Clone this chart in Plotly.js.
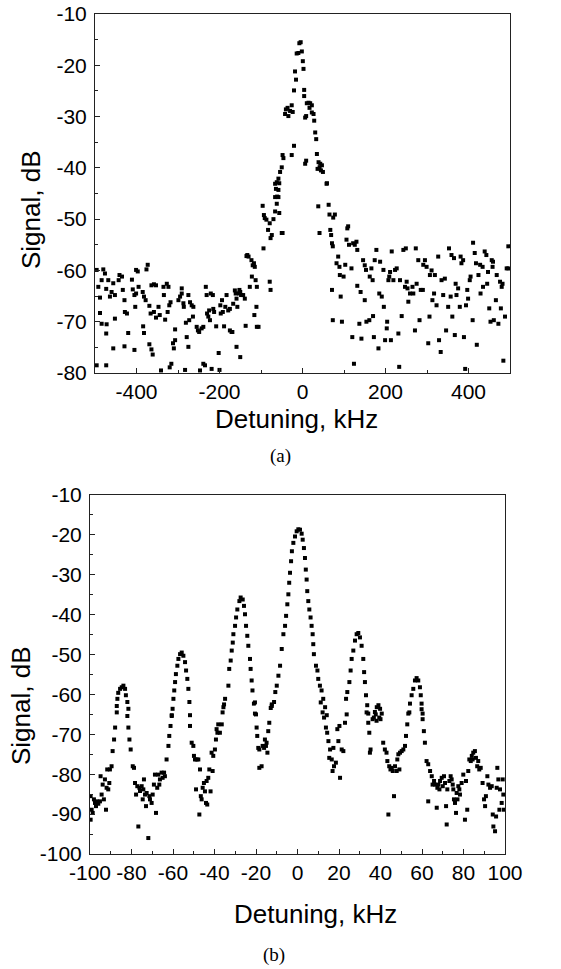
<!DOCTYPE html>
<html><head><meta charset="utf-8">
<script src="https://cdn.plot.ly/plotly-3.0.1.min.js"></script>
<style>html,body{margin:0;padding:0;background:#fff}#c{width:561px;height:969px}</style>
</head><body><div id="c"></div>
<script>
// Panel (a): wide scan, detuning in kHz, signal in dB
const aX = [-496,-492,-488,-484,-480,-476,-473,-488,-484,-472,-473,-496,-473,-468,-464,-456,-452,-460,-452,-456,-443,-441,-435,-433,-429,-428,-423,-420,-429,-411,-409,-405,-403,-401,-405,-401,-397,-395,-385,-382,-378,-382,-384,-376,-373,-369,-366,-369,-364,-361,-364,-358,-353,-358,-353,-347,-344,-341,-335,-334,-331,-327,-323,-325,-321,-318,-320,-316,-312,-310,-307,-307,-299,-295,-291,-291,-287,-286,-281,-279,-275,-273,-283,-275,-271,-267,-264,-263,-255,-252,-249,-247,-243,-239,-239,-235,-233,-231,-230,-227,-225,-223,-221,-216,-215,-219,-213,-208,-202,-200,-198,-197,-194,-192,-189,-186,-183,-179,-175,-175,-171,-169,-167,-163,-161,-159,-159,-157,-153,-152,-150,-150,-148,-143,-139,-137,-135,-133,-130,-127,-123,-122,-120,-117,-116,-115,-111,-113,-110,-106,-110,
-96,-94,-93,-91,-87,-83,-79,-77,-74,-79,-77,-70,-66,-62,-61,-58,-56,-56,-50,-48,
-66,-66,-64,-62,-58,-58,-54,-50,-48,-46,-42,-40,-36,-34,-30,-26,-23.6,-26,-20.5,-20.5,-18,-15.6,-14,-10,-7.6,-4.4,-1.6,0.8,2.4,4,4,6.4,8.8,6.4,8.8,10.4,14.5,16.9,18.5,22.5,22.5,26.6,28.2,30.6,33,34.7,36.3,38.7,41.2,42.8,44.4,46.8,49.2,58.9,
38,41,58,63,65,67,69,71,73,74,78,71,73,82,86,89,90,92,95,99,103,106,108,110,112,118,122,126,130,132,120,124,132,137,140,142,146,150,153,150,154,161,162,166,169,170,172,174,178,183,185,187,191,195,196,199,203,204,207,209,211,213,215,219,223,227,231,233,235,239,243,247,249,251,253,255,259,265,267,271,273,275,279,282,285,290,291,295,299,303,306,307,311,313,317,319,323,327,329,333,335,339,343,346,351,353,357,359,361,365,367,369,371,375,379,381,383,387,389,392,394,397,399,403,405,410,411,415,418,420,424,428,429,434,435,439,443,445,447,450,453,456,458,459,461,466,468,472,476,478,480,482,484,488,492,496,496];
const aY = [-59.9,-63.2,-65.3,-61.9,-59.8,-60.6,-63.6,-68.3,-70.4,-70.5,-72.3,-78.5,-78.5,-61.9,-65.1,-62.5,-64.8,-64.2,-69.4,-75.2,-61.9,-60.9,-61.2,-63.8,-65.8,-68.1,-68.4,-72.2,-74.8,-61.8,-63.7,-64.8,-67.1,-64.5,-75.5,-59.9,-60.2,-63.2,-64.2,-65.1,-65.8,-72.2,-70.9,-59.8,-58.9,-66.9,-68.4,-74.4,-75.4,-76.4,-62.9,-62.7,-62.9,-68.1,-69.2,-67.1,-68.7,-79.5,-63.2,-64.8,-69.6,-62.6,-63.2,-68.1,-66.8,-66.2,-78.9,-78.2,-74.2,-75.2,-73.6,-71.5,-65.8,-65.1,-64.5,-63.5,-66.4,-67.1,-70.2,-73.0,-74.9,-69.7,-79.4,-64.8,-66.2,-66.8,-69.0,-67.1,-71.0,-71.7,-72.0,-79.5,-71.3,-71.0,-78.2,-78.5,-63.2,-64.8,-68.4,-69.0,-67.8,-69.7,-64.5,-64.8,-67.5,-79.2,-68.1,-70.9,-76.1,-79.4,-66.8,-68.4,-65.8,-68.1,-70.9,-67.1,-64.8,-67.8,-67.5,-71.7,-72.0,-72.0,-66.5,-63.9,-64.5,-74.9,-65.5,-67.1,-64.5,-63.8,-64.2,-76.9,-64.8,-64.8,-65.5,-70.8,-57.2,-57.0,-57.3,-63.2,-58.0,-61.2,-59.0,-58.6,-68.7,-59.3,-67.1,-61.9,-71.0,-71.0,-63.2,
-47.4,-55.7,-49.2,-49.8,-50.1,-52.1,-50.8,-53.7,-53.1,-62.2,-63.8,-50.0,-48.5,-47.0,-45.6,-44.3,-43.0,-48.8,-52.7,-52.7,
-43.1,-45.7,-44.1,-42.8,-42.1,-45.7,-40.8,-39.9,-37.5,-38.1,-29.5,-28.6,-28.3,-29.9,-28.9,-27.8,-29.1,-37.5,-24.9,-35.7,-21.2,-22.8,-17.7,-17.6,-15.7,-15.5,-17.3,-19.2,-20.7,-24.8,-26.0,-30.2,-29.9,-39.2,-38.6,-27.4,-27.3,-28.3,-27.4,-27.8,-29.2,-29.5,-30.8,-33.1,-34.4,-37.3,-40.2,-38.9,-39.9,-39.2,-40.5,-39.5,-40.8,-43.0,
-47.5,-52.7,-43.1,-47.2,-49.1,-52.1,-53.1,-54.7,-55.3,-49.7,-49.1,-63.8,-69.7,-58.6,-57.3,-59.3,-60.9,-65.1,-70.0,-61.2,-58.9,-54.0,-51.8,-51.4,-55.0,-59.6,-54.7,-55.0,-54.4,-56.0,-73.0,-78.2,-63.0,-70.4,-64.2,-73.3,-58.0,-59.0,-59.9,-65.8,-70.0,-69.7,-61.2,-59.6,-61.9,-68.9,-73.0,-58.0,-56.0,-75.2,-64.5,-58.3,-65.1,-59.9,-67.1,-73.6,-71.3,-70.0,-61.9,-61.2,-60.3,-73.6,-56.3,-61.9,-59.9,-59.6,-72.3,-78.8,-61.9,-68.9,-56.0,-63.2,-55.7,-62.2,-63.5,-66.1,-64.5,-63.2,-64.5,-71.7,-55.7,-62.6,-58.0,-69.7,-63.8,-63.8,-58.9,-58.0,-59.3,-74.2,-69.0,-60.9,-60.0,-65.8,-64.5,-60.9,-66.8,-57.3,-73.6,-75.9,-61.9,-64.8,-61.6,-71.7,-67.1,-55.7,-65.1,-57.0,-69.0,-57.6,-72.6,-62.6,-64.8,-63.5,-67.1,-57.3,-58.6,-58.0,-73.0,-79.2,-66.8,-63.8,-65.5,-61.9,-61.2,-69.7,-54.6,-56.6,-58.6,-74.5,-60.9,-58.9,-64.5,-59.3,-63.2,-56.3,-57.0,-62.6,-60.3,-67.4,-70.0,-58.0,-59.3,-58.3,-69.7,-65.8,-60.9,-70.4,-62.2,-67.4,-63.2,-62.6,-77.6,-69.0,-59.6,-55.3,-59.6];

// Panel (b): narrow scan
const bX = [-99.7,-99.2,-99.7,-98.7,-98.1,-97.6,-97.1,-96.8,-96.0,-95.2,-94.9,-94.4,-93.9,-93.3,-92.8,-92.3,-92.0,-91.7,-91.2,-90.7,-90.4,-89.6,-89.1,-88.4,-87.9,-87.1,
-87.1,-86.8,-86.4,-85.5,-84.7,-83.9,-83.1,-82.7,-82.0,-81.5,
-82.0,-81.5,-81.0,-80.4,-79.4,-78.8,-78.3,-77.8,-77.2,-76.7,-76.2,-75.9,-75.1,-74.6,-74.3,-74.0,-73.5,-73.0,-72.7,-71.9,-71.4,-71.1,-70.3,-69.8,-69.2,-68.7,-68.2,-67.6,-67.1,-66.6,-66.3,-65.5,-65.0,-64.3,-63.9,-63.1,-62.2,-61.8,-61.2,-60.6,
-60.6,-60.2,-59.8,-59.4,-59.0,-58.6,-57.9,-57.4,-56.6,-55.8,-55.0,-54.2,-53.7,-53.1,-52.6,-52.1,-51.8,
-51.8,-51.0,-50.2,-49.9,-49.4,-48.9,-48.6,-47.8,-47.3,-47.0,-46.6,-46.2,-45.7,-45.1,-44.6,-44.1,-43.8,-43.5,-43.0,-42.5,-41.9,-41.4,-40.9,-40.6,-39.8,-39.3,-39.0,-38.6,-38.2,-37.4,-36.5,-36.1,-35.4,
-35.7,-34.9,-33.3,-32.9,-32.2,-31.7,-31.2,-30.9,-30.1,-29.6,-29.0,-28.0,-27.4,-26.4,-25.8,-25.3,-24.8,-24.2,-23.7,-22.9,-22.6,-22.1,-21.7,-21.0,-20.5,
-20.5,-20.0,-19.7,-19.4,-18.9,-18.4,-18.4,-17.3,-16.8,-16.1,-15.7,-15.2,-14.9,-14.5,-14.1,-13.6,-12.9,-12.4,
-12.4,-11.3,-10.7,-10.0,-9.2,-8.4,-7.6,-6.8,-6.0,-5.5,-4.9,-4.4,-4.0,-3.6,-3.1,-2.7,-2.0,-1.2,-0.4,0.4,1.2,2.0,2.5,3.1,3.6,4.0,4.4,4.7,5.2,5.7,6.3,6.8,7.3,7.6,7.9,8.9,9.6,10.0,10.8,11.6,12.4,13.3,14.1,
11.2,12.1,12.8,13.7,14.3,14.9,15.3,15.7,16.5,16.9,17.3,17.6,18.5,19.2,19.7,20.2,20.5,21.3,22.1,22.9,23.7,
23.4,24.0,25.0,25.6,26.1,26.9,27.7,28.5,29.3,30.1,30.9,31.7,32.1,32.5,33.0,33.6,34.1,
33.3,34.1,34.6,34.9,35.2,36.2,36.8,37.7,38.1,39.4,40.0,37.3,38.2,39.0,39.8,40.6,
41.3,42.1,42.9,43.3,43.8,44.2,44.8,45.4,45.9,46.5,47.0,47.8,48.1,48.6,49.1,49.4,50.2,51.0,51.8,52.3,52.9,53.9,
53.4,54.2,55.0,55.8,56.6,57.4,58.2,59.0,59.4,59.8,60.3,
59.8,60.3,60.9,61.4,62.2,63.0,63.0,63.9,64.7,65.1,65.8,66.3,67.1,67.4,67.9,68.4,68.7,69.5,70.0,70.6,71.1,71.6,71.9,72.2,73.2,73.8,74.3,74.8,75.1,75.4,75.9,76.4,76.7,77.1,77.5,78.0,78.3,79.1,79.9,80.7,81.2,81.8,82.3,82.8,83.5,84.0,84.4,84.7,85.5,86.0,86.6,87.1,87.6,88.3,89.2,89.9,90.4,90.8,91.5,92.0,92.8,93.6,94.1,94.4,95.2,95.7,96.0,96.3,96.8,97.3,97.6,98.4,98.9,99.2,99.5];
const bY = [-85.5,-88.9,-91.4,-89.7,-86.3,-87.2,-88.0,-86.8,-87.4,-86.8,-80.5,-85.1,-82.6,-86.3,-81.3,-88.9,-83.4,-78.8,-83.8,-82.2,-78.8,-78.0,-74.2,-71.3,-68.3,-64.5,
-62.9,-61.1,-59.6,-58.6,-58.2,-57.8,-58.6,-60.2,-61.9,-63.6,
-65.4,-68.3,-71.3,-73.8,-78.0,-78.4,-82.2,-85.1,-83.0,-93.1,-83.4,-84.2,-83.0,-86.3,-83.8,-81.3,-85.1,-88.0,-84.7,-96.0,-85.5,-86.3,-87.2,-85.1,-82.6,-80.1,-89.7,-83.4,-80.1,-82.6,-81.3,-79.6,-80.9,-79.6,-80.5,-76.3,-72.9,-70.4,-67.9,-65.4,
-65.2,-63.6,-61.1,-59.0,-56.9,-54.9,-52.8,-51.1,-49.9,-49.5,-50.3,-51.9,-54.0,-56.1,-58.6,-61.9,-65.2,
-67.9,-72.1,-72.9,-75.4,-76.3,-83.8,-76.3,-76.3,-90.1,-78.8,-85.5,-86.3,-83.4,-82.2,-84.3,-87.2,-81.7,-87.6,-80.9,-78.8,-84.3,-74.6,-79.2,-75.4,-73.8,-71.3,-68.7,-69.6,-67.5,-69.6,-67.5,-64.5,-62.5,
-63.2,-61.1,-57.8,-53.6,-51.5,-49.0,-47.0,-44.9,-42.8,-40.7,-38.7,-36.6,-35.7,-36.2,-37.8,-39.9,-42.8,-45.3,-47.8,-51.1,-53.6,-56.5,-59.0,-62.3,-64.8,
-62.0,-65.0,-68.3,-70.4,-73.4,-73.8,-78.4,-78.0,-72.9,-73.4,-71.3,-72.9,-72.1,-74.6,-69.2,-67.1,-63.4,-62.5,
-62.9,-61.9,-59.4,-57.8,-55.3,-52.8,-48.6,-44.9,-42.8,-40.3,-37.4,-34.9,-32.0,-29.5,-26.6,-24.1,-22.0,-20.4,-19.1,-18.6,-18.7,-19.7,-21.2,-23.3,-25.8,-28.7,-31.2,-34.1,-36.6,-38.7,-40.7,-42.8,-44.9,-47.4,-49.9,-52.8,-54.0,-56.1,-57.8,-59.0,-61.1,-63.2,-65.2,
-62.0,-64.5,-65.8,-68.3,-69.6,-71.7,-75.9,-73.8,-76.3,-79.2,-73.4,-78.0,-77.1,-68.7,-71.7,-67.9,-80.9,-73.8,-74.2,-67.1,-65.0,
-61.1,-59.4,-56.9,-54.0,-51.1,-49.0,-46.5,-44.9,-44.6,-45.7,-47.8,-51.1,-54.4,-56.9,-60.2,-62.7,-64.8,
-64.5,-67.1,-69.6,-74.6,-73.8,-66.2,-65.8,-65.0,-66.6,-65.8,-66.2,-64.4,-63.2,-62.7,-63.6,-64.8,
-72.1,-73.8,-74.6,-76.7,-90.1,-78.0,-78.8,-78.4,-79.2,-85.5,-78.0,-79.2,-76.3,-75.0,-78.8,-74.6,-74.2,-73.8,-72.9,-70.4,-67.5,-64.5,
-64.8,-62.3,-60.2,-58.6,-56.5,-55.9,-56.5,-58.2,-60.2,-62.3,-64.8,
-63.7,-66.2,-69.2,-72.1,-76.7,-77.5,-86.8,-79.2,-80.5,-82.6,-81.7,-82.6,-88.4,-83.4,-82.6,-83.8,-81.7,-80.9,-83.0,-80.5,-82.2,-88.0,-92.6,-83.8,-81.7,-80.5,-81.3,-82.6,-83.8,-86.3,-87.2,-89.7,-84.7,-86.3,-83.0,-83.8,-85.1,-82.2,-80.1,-91.4,-81.7,-88.9,-79.2,-76.3,-76.7,-75.4,-76.3,-74.6,-74.2,-75.9,-78.0,-76.7,-78.8,-78.4,-82.2,-86.3,-88.0,-85.5,-80.5,-82.6,-83.4,-83.0,-90.1,-93.1,-94.3,-90.6,-83.4,-78.4,-81.3,-88.9,-83.8,-87.2,-81.3,-85.1,-88.9];

const aTickVals = [-400,-200,0,200,400];
const bTickVals = [-100,-80,-60,-40,-20,0,20,40,60,80,100];
const aYTicks = [-80,-70,-60,-50,-40,-30,-20,-10];
const bYTicks = [-100,-90,-80,-70,-60,-50,-40,-30,-20,-10];
const xTitle = 'Detuning, kHz';
const yTitle = 'Signal, dB';
const captions = ['(a)', '(b)'];

const font = {family: 'Liberation Sans, Arial, sans-serif', color: '#000'};
const mk = {symbol: 'square', size: 4, color: '#000'};
const tickSize = 21, titleSize = 26;
const W = 561, H = 969;

function axisBase(extra) {
  return Object.assign({
    showline: true, linecolor: '#222', linewidth: 1, mirror: true,
    ticks: 'inside', ticklen: 5, tickwidth: 1, tickcolor: '#222',
    showgrid: false, zeroline: false,
    tickfont: {family: font.family, size: tickSize, color: '#000'}
  }, extra);
}
const minorBase = {ticks: 'inside', ticklen: 3, tickwidth: 1, tickcolor: '#222', showgrid: false};
const titleFont = {family: font.family, size: titleSize, color: '#000'};
const capFont = {family: 'Liberation Serif, Times New Roman, serif', size: 19, color: '#000'};

function note(text, px, py, f, angle) {
  return {text: text, xref: 'paper', yref: 'paper', x: px / W, y: 1 - py / H,
    xanchor: 'center', yanchor: 'middle', showarrow: false, font: f, textangle: angle || 0};
}

const data = [
  {x: aX, y: aY, type: 'scatter', mode: 'markers', marker: mk, xaxis: 'x', yaxis: 'y', hoverinfo: 'skip'},
  {x: bX, y: bY, type: 'scatter', mode: 'markers', marker: mk, xaxis: 'x2', yaxis: 'y2', hoverinfo: 'skip'}
];

const layout = {
  width: W, height: H,
  margin: {l: 0, r: 0, t: 0, b: 0},
  paper_bgcolor: '#fff', plot_bgcolor: '#fff',
  showlegend: false,
  font: font,
  xaxis: axisBase({domain: [95/W, 510/W], range: [-500, 500], anchor: 'y',
    tickvals: aTickVals, ticktext: aTickVals.map(String),
    minor: Object.assign({tickvals: [-500,-300,-100,100,300,500]}, minorBase)}),
  yaxis: axisBase({domain: [(H-373)/H, (H-14)/H], range: [-80, -10], anchor: 'x',
    tickvals: aYTicks, ticktext: aYTicks.map(String), ticklabelstandoff: 3,
    minor: Object.assign({dtick: 5}, minorBase)}),
  xaxis2: axisBase({domain: [90/W, 505/W], range: [-100, 100], anchor: 'y2',
    tickvals: bTickVals, ticktext: bTickVals.map(String),
    minor: Object.assign({dtick: 10}, minorBase)}),
  yaxis2: axisBase({domain: [(H-854)/H, (H-495)/H], range: [-100, -10], anchor: 'x2',
    tickvals: bYTicks, ticktext: bYTicks.map(String), ticklabelstandoff: 3,
    minor: Object.assign({dtick: 5}, minorBase)}),
  annotations: [
    note(xTitle, 296, 419, titleFont),
    note(yTitle, 31, 210, titleFont, -90),
    note(xTitle, 315, 914, titleFont),
    note(yTitle, 21, 706, titleFont, -90),
    note(captions[0], 280, 456, capFont),
    note(captions[1], 274, 955, capFont)
  ]
};

Plotly.newPlot('c', data, layout, {staticPlot: true, displayModeBar: false});
</script>
</body></html>
